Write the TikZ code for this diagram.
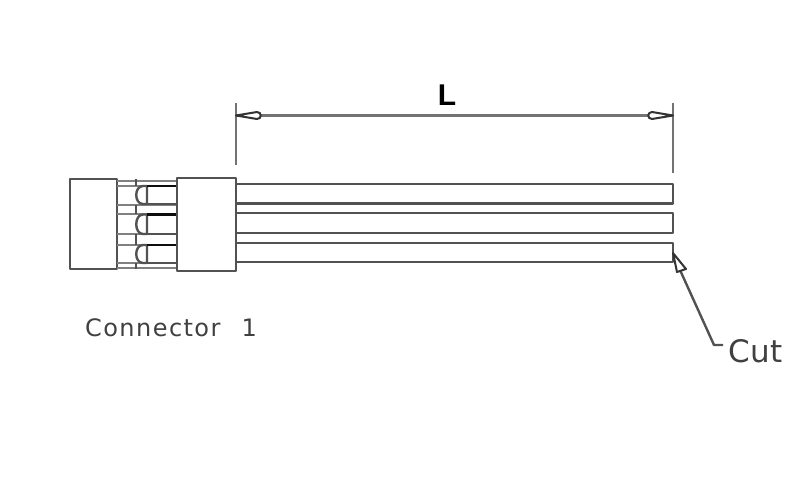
\documentclass[tikz,border=0pt]{standalone}
\usepackage{fontspec}
\setmainfont{Liberation Sans}
\newfontfamily\dejafont{DejaVu Sans}
\tikzset{
  dwg/.style={draw=black!68,line width=2.4pt,line join=round},
  thin dwg/.style={draw=black!50,line width=2pt},
  dark/.style={draw=black!95,line width=2.4pt},
  dimline/.style={draw=black!55,line width=2.4pt},
  head/.style={draw=black!80,fill=white,line width=2pt,line join=round},
  lbl/.style={inner sep=0pt,text=black!75}
}
\begin{document}
\begin{tikzpicture}[x=1pt,y=-1pt]
\useasboundingbox (0,0) rectangle (800,488);
% wires
\foreach \a/\b in {184/203.5,213/233,243/262}{
  \draw[dwg] (236,\a) -- (673,\a) -- (673,\b) -- (236,\b);
}
% housing
\draw[dwg] (70,179) rectangle (117,269);
% latch rails
\draw[thin dwg] (117,181) -- (177,181);
\draw[thin dwg] (117,268) -- (177,268);
\foreach \y in {205,214,234,245,263}{ \draw[thin dwg] (117,\y) -- (177,\y); }
\draw[thin dwg] (117,186) -- (147,186);
% ticks
\foreach \a/\b in {179/186,205/214,234/245,263/269}{ \draw[dwg] (136,\a) -- (136,\b); }
% contacts
\foreach \a/\b in {186/204,214.5/234,245/263}{
  \draw[dwg] (147,\a) -- (147,\b) -- (143,\b) .. controls (134,\b) and (134,\a) .. (143,\a) -- cycle;
  \draw[dark] (147,\a) -- (177,\a);
  \draw[dwg] (147,\b) -- (177,\b);
}
\draw[dwg,fill=white] (177,178) rectangle (236,271);
% dimension
\coordinate (extLtop) at (236,103);
\coordinate (extLbot) at (236,165);
\coordinate (extRtop) at (673,103);
\coordinate (extRbot) at (673,173);
\draw[dimline] (extLtop) -- (extLbot);
\draw[dimline] (extRtop) -- (extRbot);
\draw[dimline] (236,115.5) -- (673,115.5);
\draw[head] (236,115.5) -- (257,112) .. controls (262,112) and (262,119) .. (257,119) -- cycle;
\draw[head] (673,115.5) -- (652,112) .. controls (647,112) and (647,119) .. (652,119) -- cycle;
\node[inner sep=0pt,text=black,font=\fontsize{30}{30}\selectfont] (L) at (447,95) {\textbf{L}};
% connector label
\node[lbl,font=\dejafont\fontsize{24}{24}\selectfont,anchor=west] (conn) at (85,328) {\addfontfeature{LetterSpace=6}Connector\hspace{21pt}1};
% cut leader
\node[lbl,font=\dejafont\fontsize{31}{31}\selectfont,anchor=west] (cut) at (728,351) {\addfontfeature{LetterSpace=2}Cut};
\coordinate (tip) at (673,253);
\draw[dwg] (680,270) -- (714,345) -- (723,345);
\draw[head] (tip) -- (677,272) -- (686,269) -- cycle;
\end{tikzpicture}
\end{document}
